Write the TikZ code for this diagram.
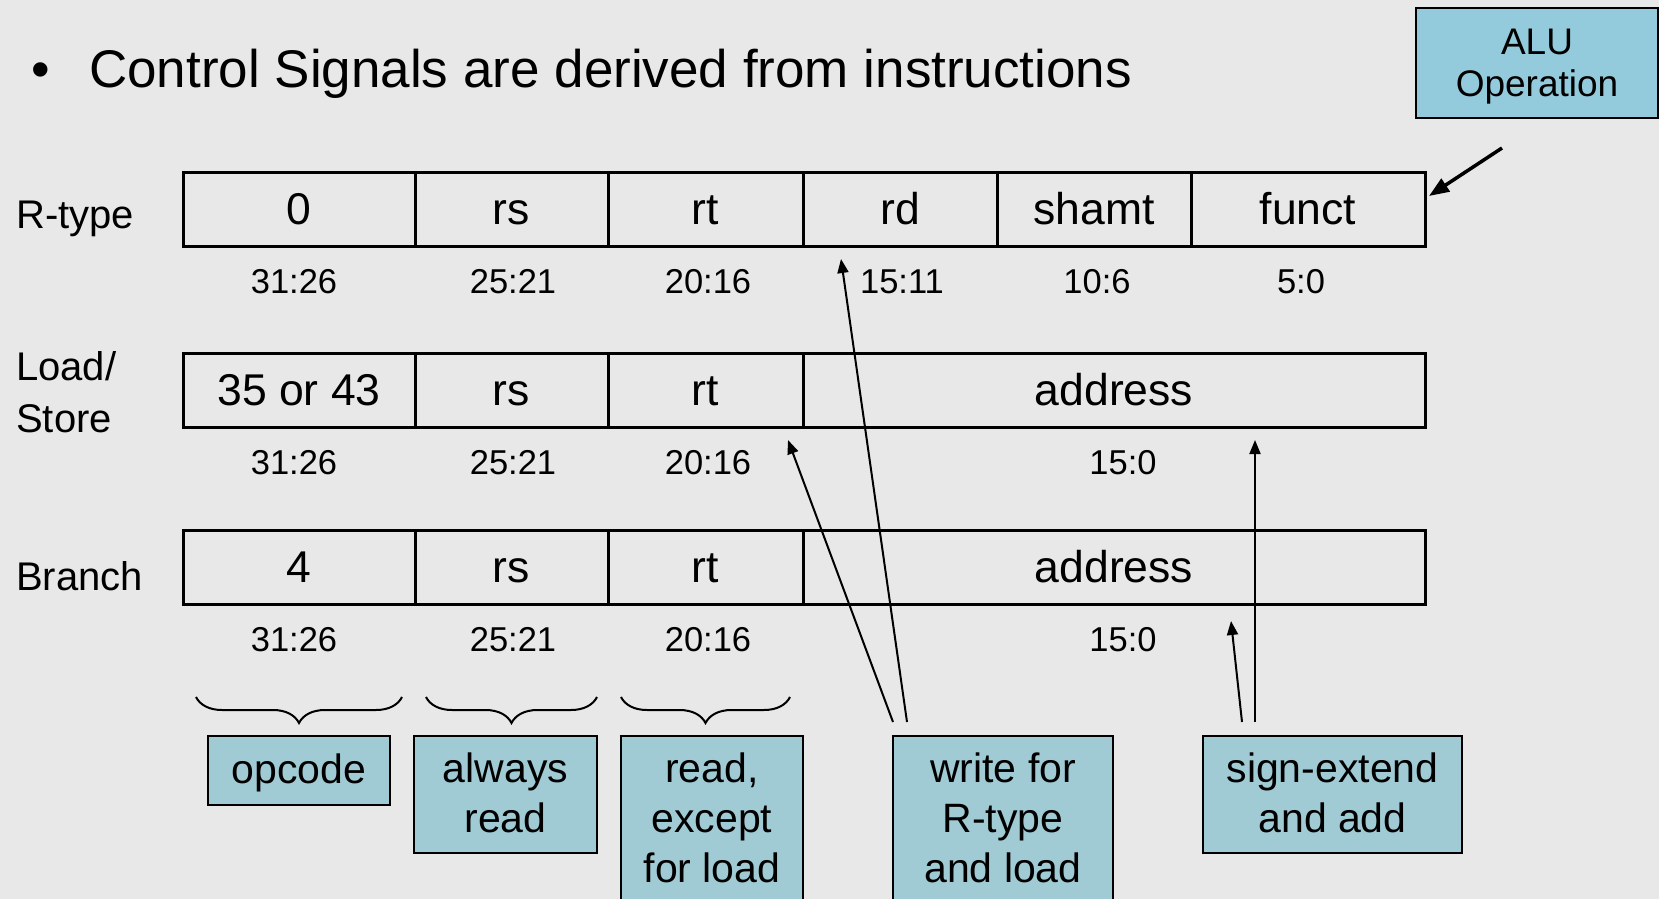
\documentclass[tikz,border=0pt]{standalone}
\usepackage{fontspec}
\setmainfont{Liberation Sans}
\usetikzlibrary{arrows.meta,decorations.pathreplacing}

\definecolor{slidebg}{HTML}{E8E8E8}
\definecolor{notefill}{HTML}{A0CBD5}
\definecolor{alufill}{HTML}{93CBDC}

\tikzset{
  field/.style={draw=black, line width=3pt, minimum height=74pt, inner sep=0pt,
    text height=30pt, text depth=0pt, font=\fontsize{44.5}{50}\selectfont},
  bits/.style={anchor=base, inner sep=0pt, font=\fontsize{34.5}{40}\selectfont},
  rowname/.style={anchor=base west, inner sep=0pt, font=\fontsize{40}{52}\selectfont},
  note/.style={draw=black, line width=1.8pt, fill=notefill, inner sep=0pt},
  notetext/.style={anchor=base, inner sep=0pt, font=\fontsize{41}{50}\selectfont},
  pointer/.style={line width=2pt, -{Triangle[length=14pt,width=11pt]}},
  bracket/.style={line width=2pt, decorate, decoration={brace, mirror, amplitude=26pt}},
}

\begin{document}
\begin{tikzpicture}[x=1pt, y=-1pt]
  \useasboundingbox (0,0) rectangle (1659,899);
  \clip (0,0) rectangle (1659,899);
  \fill[slidebg] (0,0) rectangle (1659,899);

  % heading
  \node[anchor=base west, inner sep=0pt, font=\fontsize{53}{60}\selectfont] (bullet) at (31,87) {•};
  \node[anchor=base west, inner sep=0pt, font=\fontsize{53}{60}\selectfont] (title) at (89,87)
    {Control Signals are derived from instructions};

  % row names
  \node[rowname] (nR) at (16,228) {R-type};
  \node[rowname] (nLS) at (16,380) {\begin{tabular}[t]{@{}l@{}}Load/\\Store\end{tabular}};
  \node[rowname] (nB) at (16,590) {Branch};

  % R-type format
  \node[field, minimum width=232pt] (r0) at (299,209) {0};
  \node[field, minimum width=193pt] (r1) at (511.5,209) {rs};
  \node[field, minimum width=195pt] (r2) at (705.5,209) {rt};
  \node[field, minimum width=194pt] (r3) at (900,209) {rd};
  \node[field, minimum width=194pt] (r4) at (1094,209) {shamt};
  \node[field, minimum width=234pt] (r5) at (1308,209) {funct};

  % load/store format
  \node[field, minimum width=232pt] (l0) at (299,390) {35 or 43};
  \node[field, minimum width=193pt] (l1) at (511.5,390) {rs};
  \node[field, minimum width=195pt] (l2) at (705.5,390) {rt};
  \node[field, minimum width=622pt] (l3) at (1114,390) {address};

  % branch format
  \node[field, minimum width=232pt] (b0) at (299,567) {4};
  \node[field, minimum width=193pt] (b1) at (511.5,567) {rs};
  \node[field, minimum width=195pt] (b2) at (705.5,567) {rt};
  \node[field, minimum width=622pt] (b3) at (1114,567) {address};

  % bit ranges
  \node[bits] (rb0) at (294,293) {31:26};
  \node[bits] (rb1) at (513,293) {25:21};
  \node[bits] (rb2) at (708,293) {20:16};
  \node[bits] (rb3) at (902,293) {15:11};
  \node[bits] (rb4) at (1097,293) {10:6};
  \node[bits] (rb5) at (1301,293) {5:0};

  \node[bits] (lb0) at (294,474) {31:26};
  \node[bits] (lb1) at (513,474) {25:21};
  \node[bits] (lb2) at (708,474) {20:16};
  \node[bits] (lb3) at (1123,474) {15:0};

  \node[bits] (bb0) at (294,651) {31:26};
  \node[bits] (bb1) at (513,651) {25:21};
  \node[bits] (bb2) at (708,651) {20:16};
  \node[bits] (bb3) at (1123,651) {15:0};

  % braces over the first three fields
  \draw[bracket] (196,697) -- (402,697);
  \draw[bracket] (426,697) -- (597,697);
  \draw[bracket] (621,697) -- (790,697);

  % notes
  \node[note, minimum width=182pt, minimum height=69pt] (opc) at (299,770.5) {};
  \node[notetext] (opc-t) at (299,783) {opcode};

  \node[note, minimum width=183pt, minimum height=117pt] (alw) at (505.5,794.5) {};
  \node[notetext] (alw-t) at (505.5,782) {\begin{tabular}[t]{@{}c@{}}always\\read\end{tabular}};

  \node[note, minimum width=182pt, minimum height=180pt] (rdx) at (712,826) {};
  \node[notetext] (rdx-t) at (712,782) {\begin{tabular}[t]{@{}c@{}}read,\\except\\for load\end{tabular}};

  \node[note, minimum width=220pt, minimum height=180pt] (wrt) at (1003,826) {};
  \node[notetext] (wrt-t) at (1003,782) {\begin{tabular}[t]{@{}c@{}}write for\\R-type\\and load\end{tabular}};

  \node[note, minimum width=259pt, minimum height=117pt] (sgn) at (1332.5,794.5) {};
  \node[notetext] (sgn-t) at (1332.5,782) {\begin{tabular}[t]{@{}c@{}}sign-extend\\and add\end{tabular}};

  \node[note, fill=alufill, minimum width=242pt, minimum height=110pt] (alu) at (1537,63) {};
  \node[anchor=base, inner sep=0pt, font=\fontsize{37}{42}\selectfont] (alu-t) at (1537,55)
    {\begin{tabular}[t]{@{}c@{}}ALU\\Operation\end{tabular}};

  % pointer end points
  \coordinate (wA) at (893,722);
  \coordinate (wB) at (907,722);
  \coordinate (tRt) at (788,440);
  \coordinate (tRd) at (841,259);
  \coordinate (sA) at (1255,722);
  \coordinate (tLA) at (1255,440);
  \coordinate (sB) at (1242,722);
  \coordinate (tBA) at (1231,621);
  \coordinate (aluS) at (1502,148);
  \coordinate (tFn) at (1429,196);

  \draw[pointer] (wA) -- (tRt);
  \draw[pointer] (wB) -- (tRd);
  \draw[pointer] (sA) -- (tLA);
  \draw[pointer] (sB) -- (tBA);
  \draw[line width=3.5pt, -{Triangle[length=20pt,width=15pt]}] (aluS) -- (tFn);
\end{tikzpicture}
\end{document}
